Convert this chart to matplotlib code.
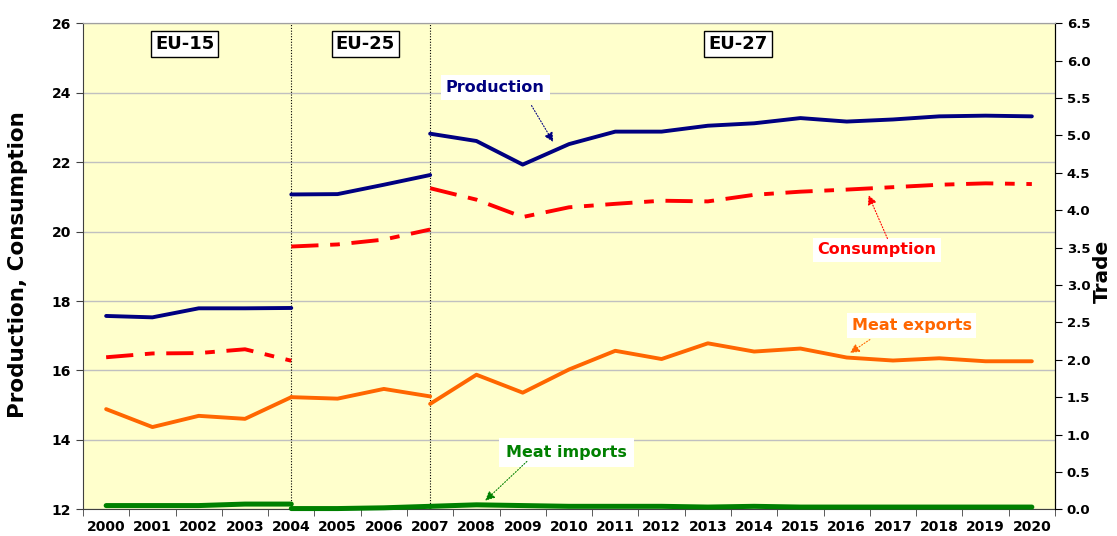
import matplotlib.pyplot as plt

plt.rcParams['font.family'] = 'DejaVu Sans'
plt.rcParams['font.weight'] = 'bold'

years = list(range(2000, 2021))

# Production / consumption (left axis), per EU composition
prod_eu15 = [17.57, 17.53, 17.79, 17.79, 17.80]
prod_eu25 = [21.07, 21.08, 21.35, 21.63]
prod_eu27 = [22.82, 22.61, 21.93, 22.52, 22.88, 22.88, 23.05, 23.12, 23.27,
             23.17, 23.23, 23.32, 23.34, 23.32]
cons_eu15 = [16.38, 16.49, 16.50, 16.61, 16.28]
cons_eu25 = [19.57, 19.63, 19.77, 20.06]
cons_eu27 = [21.25, 20.92, 20.42, 20.70, 20.80, 20.89, 20.87, 21.06, 21.15,
             21.21, 21.28, 21.35, 21.39, 21.37]

# Trade (right axis)
exp_eu15 = [1.34, 1.10, 1.25, 1.21, 1.50]
exp_eu25 = [1.50, 1.48, 1.61, 1.51]
exp_eu27 = [1.41, 1.80, 1.56, 1.87, 2.12, 2.01, 2.22, 2.11, 2.15, 2.03, 1.99,
            2.02, 1.98, 1.98]
imp_eu15 = [0.05, 0.05, 0.05, 0.07, 0.07]
imp_eu25 = [0.01, 0.01, 0.02, 0.04]
imp_eu27 = [0.04, 0.06, 0.05, 0.04, 0.04, 0.04, 0.03, 0.04, 0.03, 0.03, 0.03,
            0.03, 0.03, 0.03]

x15 = list(range(0, 5))
x25 = list(range(4, 8))
x27 = list(range(7, 21))

navy = '#000080'
red = '#FF0000'
orange = '#FF6600'
green = '#008000'
lw = 2.8
dash = (0, (7, 3, 2.5, 3))

fig = plt.figure(figsize=(11.17, 5.36), dpi=100)
ax = fig.add_axes([0.0743, 0.0498, 0.8702, 0.9067])
ax.set_facecolor('#FFFFCC')
ax2 = ax.twinx()

for xs, p, c in [(x15, prod_eu15, cons_eu15), (x25, prod_eu25, cons_eu25),
                 (x27, prod_eu27, cons_eu27)]:
    ax.plot(xs, p, color=navy, lw=lw, solid_capstyle='round', zorder=3)
    ax.plot(xs, c, color=red, lw=lw, linestyle=dash, zorder=3)

for xs, e, i in [(x15, exp_eu15, imp_eu15), (x25, exp_eu25, imp_eu25),
                 (x27, exp_eu27, imp_eu27)]:
    ax2.plot(xs, e, color=orange, lw=lw, solid_capstyle='round', zorder=3)
    ax2.plot(xs, i, color=green, lw=lw + 0.8, solid_capstyle='round', zorder=3,
             clip_on=False)

ax.set_xlim(-0.5, 20.5)
ax.set_ylim(12, 26)
ax.set_yticks(range(12, 27, 2))
ax2.set_ylim(0, 6.5)
ax2.set_yticks([i * 0.5 for i in range(14)])
ax2.set_yticklabels(['%.1f' % (i * 0.5) for i in range(14)])

ax.set_xticks(range(21))
ax.set_xticklabels([str(y) for y in years])
ax.set_xticks([i + 0.5 for i in range(-1, 21)], minor=True)
ax.tick_params(axis='x', which='major', length=0, labelsize=10, pad=8)
ax.tick_params(axis='x', which='minor', length=5, color='#404040')
ax.tick_params(axis='y', labelsize=10, length=5, color='#404040')
ax2.tick_params(axis='y', labelsize=9.5, length=5)

ax.grid(axis='y', color='#C0C0C0', lw=1)
ax.set_axisbelow(True)
ax.spines['top'].set_color('#A0A0A0')
ax2.spines['top'].set_color('#A0A0A0')
ax.spines['left'].set_color('#404040')
ax.spines['bottom'].set_color('#404040')
ax2.spines['left'].set_visible(False)
ax2.spines['bottom'].set_visible(False)

ax.set_ylabel('Production, Consumption', fontsize=15.5, fontweight='bold',
              va='center', ha='center')
ax.yaxis.set_label_coords(-0.0669, 0.503)
ax2.set_ylabel('Trade', fontsize=14.5, fontweight='bold', rotation=90,
               va='center', ha='center')
ax2.yaxis.set_label_coords(1.049, 0.49)

# boundaries of enlargements
for xv in [4, 7]:
    ax.axvline(xv, color='black', lw=0.8, linestyle=(0, (1, 1.5)), zorder=2)

box = dict(boxstyle='square,pad=0.22', fc='white', ec='black', lw=1)
for label, xv in [('EU-15', 1.7), ('EU-25', 5.6), ('EU-27', 13.65)]:
    ax.text(xv, 25.4, label, fontsize=13, fontweight='bold', ha='center',
            va='center', bbox=box)


def label_arrow(axis, text, color, txy, start, tip, pad=0.3):
    axis.text(txy[0], txy[1], text, color=color, fontsize=11.5,
              fontweight='bold', ha='center', va='center',
              bbox=dict(boxstyle='square,pad=%s' % pad, fc='white', ec='none'),
              zorder=4)
    axis.annotate('', xy=tip, xytext=start,
                  arrowprops=dict(arrowstyle='-|>', color=color, lw=0.8,
                                  linestyle=':', shrinkA=0, shrinkB=0,
                                  mutation_scale=14), zorder=4)


label_arrow(ax, 'Production', navy, (8.41, 24.15), (9.19, 23.63), (9.66, 22.58))
label_arrow(ax, 'Consumption', red, (16.65, 19.47), (16.88, 19.80), (16.47, 21.05))
label_arrow(ax2, 'Meat exports', orange, (17.4, 2.46), (16.5, 2.27), (16.07, 2.09))
label_arrow(ax2, 'Meat imports', green, (9.94, 0.757), (9.09, 0.64), (8.19, 0.115),
            pad=0.45)

plt.savefig('out.png', dpi=100)
